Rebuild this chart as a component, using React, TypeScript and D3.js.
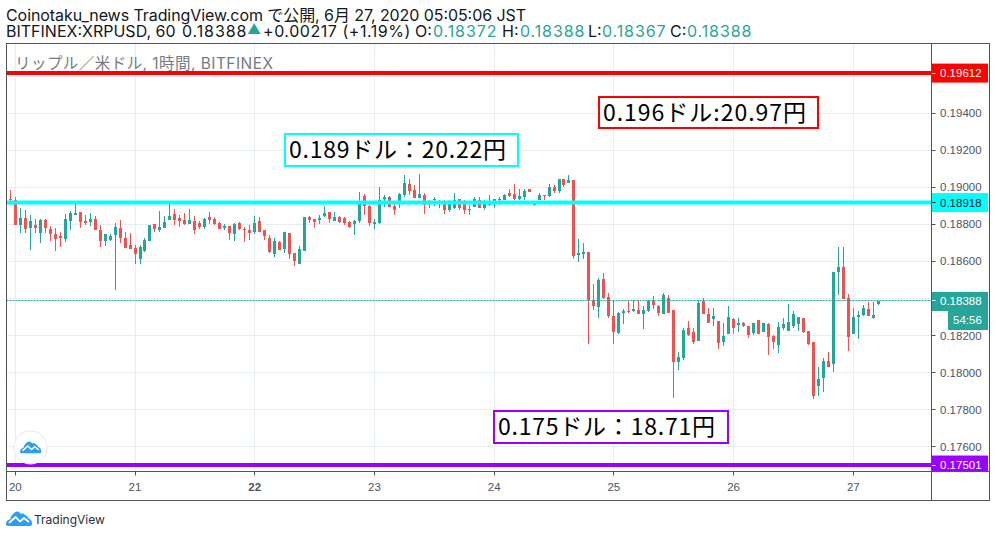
import React from "react";
import * as d3 from "d3";

// prices are kept as price x 100000; first candle is the last hour of the 19th
const opens = [
  18937, 18930, 18797, 18834, 18780, 18797, 18753, 18824, 18775, 18748, 18737, 18721, 18818, 18851, 18867, 18818, 18813, 18829, 18770, 18710,
  18716, 18743, 18780, 18726, 18689, 18672, 18613, 18656, 18710, 18802, 18770, 18780, 18824, 18856, 18834, 18824, 18802, 18818, 18807, 18786,
  18840, 18829, 18807, 18780, 18791, 18748, 18807, 18775, 18770, 18759, 18818, 18770, 18726, 18640, 18705, 18667, 18753, 18645, 18586, 18656,
  18840, 18829, 18824, 18845, 18867, 18818, 18840, 18834, 18813, 18802, 18818, 18953, 18899, 18802, 18807, 18937, 18948, 18899, 18910, 18959,
  19018, 18986, 18943, 18959, 18926, 18932, 18910, 18921, 18878, 18888, 18937, 18910, 18883, 18894, 18932, 18888, 18905, 18910, 18937, 18932,
  18969, 18964, 18937, 18948, 18991, 18905, 18932, 18959, 18953, 19002, 18980, 19045, 19023, 19040, 18635, 18640, 18650, 18391, 18353, 18504,
  18407, 18305, 18213, 18321, 18332, 18332, 18337, 18315, 18332, 18386, 18359, 18315, 18402, 18337, 18056, 18078, 18240, 18218, 18170, 18386,
  18315, 18288, 18278, 18164, 18207, 18288, 18256, 18267, 18251, 18213, 18283, 18218, 18261, 18197, 18148, 18240, 18224, 18251, 18261, 18294,
  18224, 18164, 17927, 17970, 18062, 18045, 18542, 18569, 18402, 18207, 18299, 18310, 18342, 18294, 18369,
];
const highs = [
  18986, 18948, 18888, 18878, 18851, 18829, 18829, 18829, 18791, 18780, 18759, 18856, 18872, 18910, 18867, 18851, 18861, 18845, 18797, 18748,
  18748, 18807, 18824, 18759, 18753, 18689, 18689, 18726, 18797, 18802, 18872, 18845, 18910, 18883, 18851, 18861, 18883, 18845, 18818, 18834,
  18867, 18840, 18813, 18802, 18791, 18807, 18813, 18786, 18797, 18845, 18840, 18770, 18743, 18726, 18710, 18759, 18753, 18645, 18683, 18840,
  18845, 18829, 18851, 18899, 18867, 18867, 18845, 18840, 18818, 18824, 18975, 18964, 18905, 18829, 19002, 18959, 18953, 18915, 18969, 19067,
  19045, 19013, 19072, 18969, 18932, 18948, 18932, 18932, 18932, 18969, 18937, 18932, 18905, 18948, 18948, 18932, 18959, 18937, 18948, 18964,
  18991, 19018, 18991, 18991, 18991, 18926, 18969, 18959, 19018, 19013, 19045, 19045, 19067, 19040, 18721, 18699, 18650, 18477, 18510, 18537,
  18429, 18391, 18326, 18342, 18391, 18391, 18391, 18359, 18391, 18413, 18364, 18429, 18418, 18337, 18110, 18240, 18278, 18240, 18391, 18402,
  18348, 18348, 18278, 18267, 18359, 18294, 18294, 18272, 18251, 18267, 18283, 18267, 18267, 18202, 18272, 18294, 18369, 18332, 18299, 18294,
  18224, 18164, 18029, 18078, 18110, 18542, 18677, 18677, 18423, 18348, 18332, 18364, 18380, 18380, 18389,
];
const lows = [
  18906, 18797, 18753, 18753, 18662, 18753, 18699, 18753, 18710, 18656, 18678, 18705, 18770, 18851, 18780, 18797, 18791, 18770, 18678, 18683,
  18710, 18446, 18699, 18672, 18667, 18586, 18586, 18651, 18710, 18759, 18759, 18780, 18824, 18797, 18786, 18797, 18802, 18748, 18775, 18775,
  18802, 18797, 18775, 18770, 18716, 18710, 18770, 18705, 18716, 18748, 18759, 18716, 18645, 18624, 18662, 18645, 18613, 18575, 18586, 18656,
  18807, 18780, 18802, 18840, 18807, 18818, 18807, 18797, 18780, 18743, 18807, 18851, 18791, 18775, 18802, 18894, 18894, 18851, 18888, 18948,
  18959, 18943, 18943, 18856, 18888, 18899, 18888, 18856, 18867, 18883, 18878, 18856, 18851, 18894, 18888, 18878, 18899, 18888, 18905, 18932,
  18948, 18932, 18932, 18932, 18975, 18899, 18932, 18932, 18948, 18969, 18969, 19002, 19023, 18613, 18597, 18613, 18153, 18337, 18294, 18396,
  18294, 18153, 18207, 18261, 18321, 18326, 18315, 18235, 18326, 18342, 18305, 18315, 18321, 17862, 18013, 18067, 18197, 18153, 18170, 18315,
  18267, 18251, 18126, 18143, 18207, 18207, 18218, 18245, 18186, 18202, 18207, 18218, 18094, 18126, 18105, 18229, 18224, 18240, 18224, 18213,
  18148, 17856, 17873, 17894, 18029, 18002, 18418, 18396, 18116, 18207, 18180, 18305, 18305, 18288, 18364,
];
const closes = [
  18930, 18797, 18834, 18775, 18818, 18780, 18824, 18780, 18748, 18721, 18726, 18829, 18861, 18861, 18813, 18807, 18829, 18770, 18710, 18748,
  18737, 18786, 18726, 18672, 18667, 18640, 18678, 18716, 18797, 18775, 18786, 18813, 18845, 18824, 18818, 18802, 18824, 18770, 18786, 18829,
  18824, 18802, 18775, 18791, 18753, 18802, 18775, 18770, 18753, 18807, 18759, 18737, 18651, 18710, 18662, 18759, 18640, 18602, 18667, 18840,
  18824, 18813, 18834, 18862, 18829, 18840, 18813, 18807, 18786, 18818, 18926, 18899, 18807, 18813, 18932, 18948, 18894, 18878, 18964, 19023,
  18980, 18943, 18964, 18905, 18915, 18937, 18926, 18878, 18910, 18932, 18888, 18878, 18878, 18937, 18888, 18910, 18910, 18937, 18932, 18959,
  18953, 18937, 18953, 18980, 18975, 18910, 18959, 18953, 19002, 18980, 19045, 19013, 19040, 18629, 18645, 18651, 18391, 18359, 18499, 18402,
  18305, 18218, 18321, 18332, 18326, 18342, 18315, 18337, 18386, 18364, 18321, 18418, 18321, 18056, 18083, 18229, 18202, 18164, 18375, 18315,
  18267, 18305, 18159, 18197, 18299, 18240, 18267, 18251, 18202, 18267, 18207, 18267, 18191, 18164, 18245, 18261, 18272, 18315, 18299, 18218,
  18153, 17873, 17964, 18062, 18029, 18542, 18569, 18396, 18191, 18299, 18310, 18348, 18305, 18310, 18388,
];
const firstHour = -1;

const dayHours = [0, 24, 48, 72, 96, 120, 144, 168];
const dayLabels = ["20", "21", "22", "23", "24", "25", "26", "27"];
const priceTicks = [19600, 19400, 19200, 19000, 18800, 18600, 18400, 18200, 18000, 17800, 17600];
const levelPrices = [19617, 18918, 17501];
const levelLabels = ["0.19612", "0.18918", "0.17501"];
const levelColors = ["#ff0000", "#00ffff", "#9900ff"];
const levelTextColors = ["#ffffff", "#131722", "#ffffff"];
const lastPrice = 18388;

const UP = "#26a69a";
const DOWN = "#ef5350";
const AXIS = "#50535e";
const GRID = "#e6eef4";
const AXIS_FONT = "'Liberation Sans', Arial, sans-serif";
const HEAD_FONT = "Inter, 'Noto Sans CJK JP', sans-serif";
const NOTE_FONT = "'Noto Sans CJK JP', sans-serif";

const left = 6.5;
const top = 43.5;
const right = 989.5;
const bottom = 500.5;
const axisX = 931.5;
const axisY = 471.5;

const x = d3.scaleLinear().domain([0, 168]).range([15.3, 853.3]);
const y = d3.scaleLinear().domain([17600, 19400]).range([446.7, 113.3]);
const crisp = (v: number) => Math.round(v - 0.5) + 0.5;
const priceText = (v: number) => (v / 100000).toFixed(5);

const CLOUD =
  "M0 13 C0 10 2 8.5 4 8.5 C5 5 8 1 11 0.5 C13 0.5 14 2 15.5 3 C17 2 18 2.5 19 4 C21 5 22 6 22.5 7.5 C25 8 26 10 26 13 C26 14.5 25 15 23.5 15 L2.5 15 C1 15 0 14.5 0 13 Z";
const CLOUD_MARK = "M3 12 L9.5 6 L14 10.5 L18 7 L23 11";

function Logo({ dx, dy, k }: { dx: number; dy: number; k: number }) {
  return (
    <g transform={`translate(${dx},${dy}) scale(${k})`}>
      <path d={CLOUD} fill="#2a9df4" />
      <path d={CLOUD_MARK} fill="none" stroke="#ffffff" strokeWidth={1.8} />
    </g>
  );
}

function Note({ bx, by, w, h, len, color, text }: { bx: number; by: number; w: number; h: number; len: number; color: string; text: string }) {
  return (
    <g>
      <rect x={bx} y={by} width={w} height={h} fill="#ffffff" stroke={color} strokeWidth={2} />
      <text
        x={bx + 4}
        y={by + h / 2 + 8}
        fontFamily={NOTE_FONT}
        fontSize={23}
        fill="#000000"
        textLength={len}
        lengthAdjust="spacing"
      >
        {text}
      </text>
    </g>
  );
}

export default function App() {
  const candles = opens.map((o, i) => ({
    cx: crisp(x(i + firstHour)),
    o,
    h: highs[i],
    l: lows[i],
    c: closes[i],
  }));
  // the last price label covers the tick next to it, the axis does not print that one
  const axisTicks = priceTicks.filter((t) => t !== 19600 && Math.abs(y(t) - y(lastPrice)) > 10);

  return (
    <svg
      width={996}
      height={537}
      style={{ position: "absolute", left: 0, top: 0, background: "#fff" }}
    >
      <text x={6} y={21} fontFamily={HEAD_FONT} fontSize={16} fill="#131722" textLength={520} lengthAdjust="spacing">
        Coinotaku_news TradingView.com で公開, 6月 27, 2020 05:05:06 JST
      </text>
      <text y={37} fontFamily={HEAD_FONT} fontSize={16} fill="#131722">
        <tspan x={6}>BITFINEX:XRPUSD, 60</tspan>
        <tspan x={182} letterSpacing={0.9}>0.18388</tspan>
        <tspan x={247} fill={UP} fontSize={14} dy={-3}>▲</tspan>
        <tspan x={263} dy={3} letterSpacing={0.55}>+0.00217 (+1.19%)</tspan>
        <tspan x={415}>O:</tspan>
        <tspan x={433} fill={UP} letterSpacing={0.9}>0.18372</tspan>
        <tspan x={502}>H:</tspan>
        <tspan x={520} fill={UP} letterSpacing={0.9}>0.18388</tspan>
        <tspan x={588}>L:</tspan>
        <tspan x={602} fill={UP} letterSpacing={0.9}>0.18367</tspan>
        <tspan x={670}>C:</tspan>
        <tspan x={687} fill={UP} letterSpacing={0.9}>0.18388</tspan>
      </text>

      {priceTicks.map((t) => (
        <line key={t} x1={left} x2={axisX} y1={crisp(y(t))} y2={crisp(y(t))} stroke={GRID} />
      ))}
      {dayHours.map((h) => (
        <line key={h} x1={crisp(x(h))} x2={crisp(x(h))} y1={top} y2={axisY} stroke={GRID} />
      ))}

      <text x={15} y={69} fontFamily={HEAD_FONT} fontSize={15.5} fill="#787b86" textLength={258} lengthAdjust="spacing">
        リップル／米ドル, 1時間, BITFINEX
      </text>

      {candles.map((d, i) => {
        const color = d.c >= d.o ? UP : DOWN;
        const yTop = Math.round(y(Math.max(d.o, d.c)));
        const yBot = Math.round(y(Math.min(d.o, d.c)));
        return (
          <g key={i}>
            <line x1={d.cx} x2={d.cx} y1={Math.round(y(d.h))} y2={Math.round(y(d.l))} stroke={color} />
            <rect x={d.cx - 1.5} y={yTop} width={3} height={Math.max(1, yBot - yTop)} fill={color} />
          </g>
        );
      })}

      <line
        x1={left}
        x2={axisX}
        y1={crisp(y(lastPrice))}
        y2={crisp(y(lastPrice))}
        stroke={UP}
        strokeDasharray="2 1"
      />

      {levelPrices.map((p, i) => (
        <line key={p} x1={left} x2={axisX} y1={y(p)} y2={y(p)} stroke={levelColors[i]} strokeWidth={4} />
      ))}

      <Note bx={599} by={97} w={219} h={31} len={203} color={levelColors[0]} text="0.196ドル:20.97円" />
      <Note bx={285} by={134} w={233} h={32} len={217} color={levelColors[1]} text="0.189ドル：20.22円" />
      <Note bx={494} by={411} w={234} h={32} len={217} color={levelColors[2]} text="0.175ドル：18.71円" />

      <circle cx={30.5} cy={447.5} r={16.5} fill="#ffffff" stroke="#e6e8ea" />
      <Logo dx={20} dy={441} k={0.82} />

      <rect x={left} y={axisY} width={right - left} height={bottom - axisY} fill="#ffffff" />
      <rect x={axisX} y={top} width={right - axisX} height={bottom - top} fill="#ffffff" />

      {axisTicks.map((t) => (
        <g key={t}>
          <line x1={axisX} x2={axisX + 4} y1={crisp(y(t))} y2={crisp(y(t))} stroke={AXIS} />
          <text x={940} y={y(t) + 4} fontFamily={AXIS_FONT} fontSize={11.5} fill={AXIS}>
            {priceText(t)}
          </text>
        </g>
      ))}

      <rect x={axisX} y={Math.round(y(lastPrice)) - 9} width={56.5} height={19} fill={UP} />
      <line x1={axisX} x2={axisX + 4} y1={crisp(y(lastPrice))} y2={crisp(y(lastPrice))} stroke="#ffffff" />
      <text x={940} y={y(lastPrice) + 4} fontFamily={AXIS_FONT} fontSize={11.5} fill="#ffffff">
        {priceText(lastPrice)}
      </text>
      <rect x={948} y={311} width={40} height={19} fill={UP} />
      <text x={953} y={324} fontFamily={AXIS_FONT} fontSize={11.5} fill="#ffffff">
        54:56
      </text>

      {levelPrices.map((p, i) => {
        const ly = y(p);
        const boxTop = ly - 9.5;
        const boxBottom = Math.min(ly + 9.5, axisY);
        return (
          <g key={p}>
            <rect x={axisX} y={boxTop} width={56.5} height={boxBottom - boxTop} fill={levelColors[i]} />
            <line x1={axisX} x2={axisX + 4} y1={crisp(ly)} y2={crisp(ly)} stroke={levelTextColors[i]} />
            <text x={940} y={ly + 4} fontFamily={AXIS_FONT} fontSize={11.5} fill={levelTextColors[i]}>
              {levelLabels[i]}
            </text>
          </g>
        );
      })}

      {dayHours.map((h, i) => (
        <g key={h}>
          <line x1={crisp(x(h))} x2={crisp(x(h))} y1={axisY} y2={axisY + 4} stroke={AXIS} />
          <text
            x={x(h)}
            y={491}
            textAnchor="middle"
            fontFamily={AXIS_FONT}
            fontSize={11.5}
            fontWeight={dayLabels[i] === "22" ? "bold" : "normal"}
            fill={AXIS}
          >
            {dayLabels[i]}
          </text>
        </g>
      ))}

      <line x1={axisX} x2={axisX} y1={top} y2={bottom} stroke={AXIS} />
      <line x1={left} x2={right} y1={axisY} y2={axisY} stroke={AXIS} />
      <rect x={left} y={top} width={right - left} height={bottom - top} fill="none" stroke={AXIS} />

      <Logo dx={6} dy={511} k={1} />
      <text x={34} y={524} fontFamily={HEAD_FONT} fontSize={12} fill="#2a2e39">
        TradingView
      </text>
    </svg>
  );
}
